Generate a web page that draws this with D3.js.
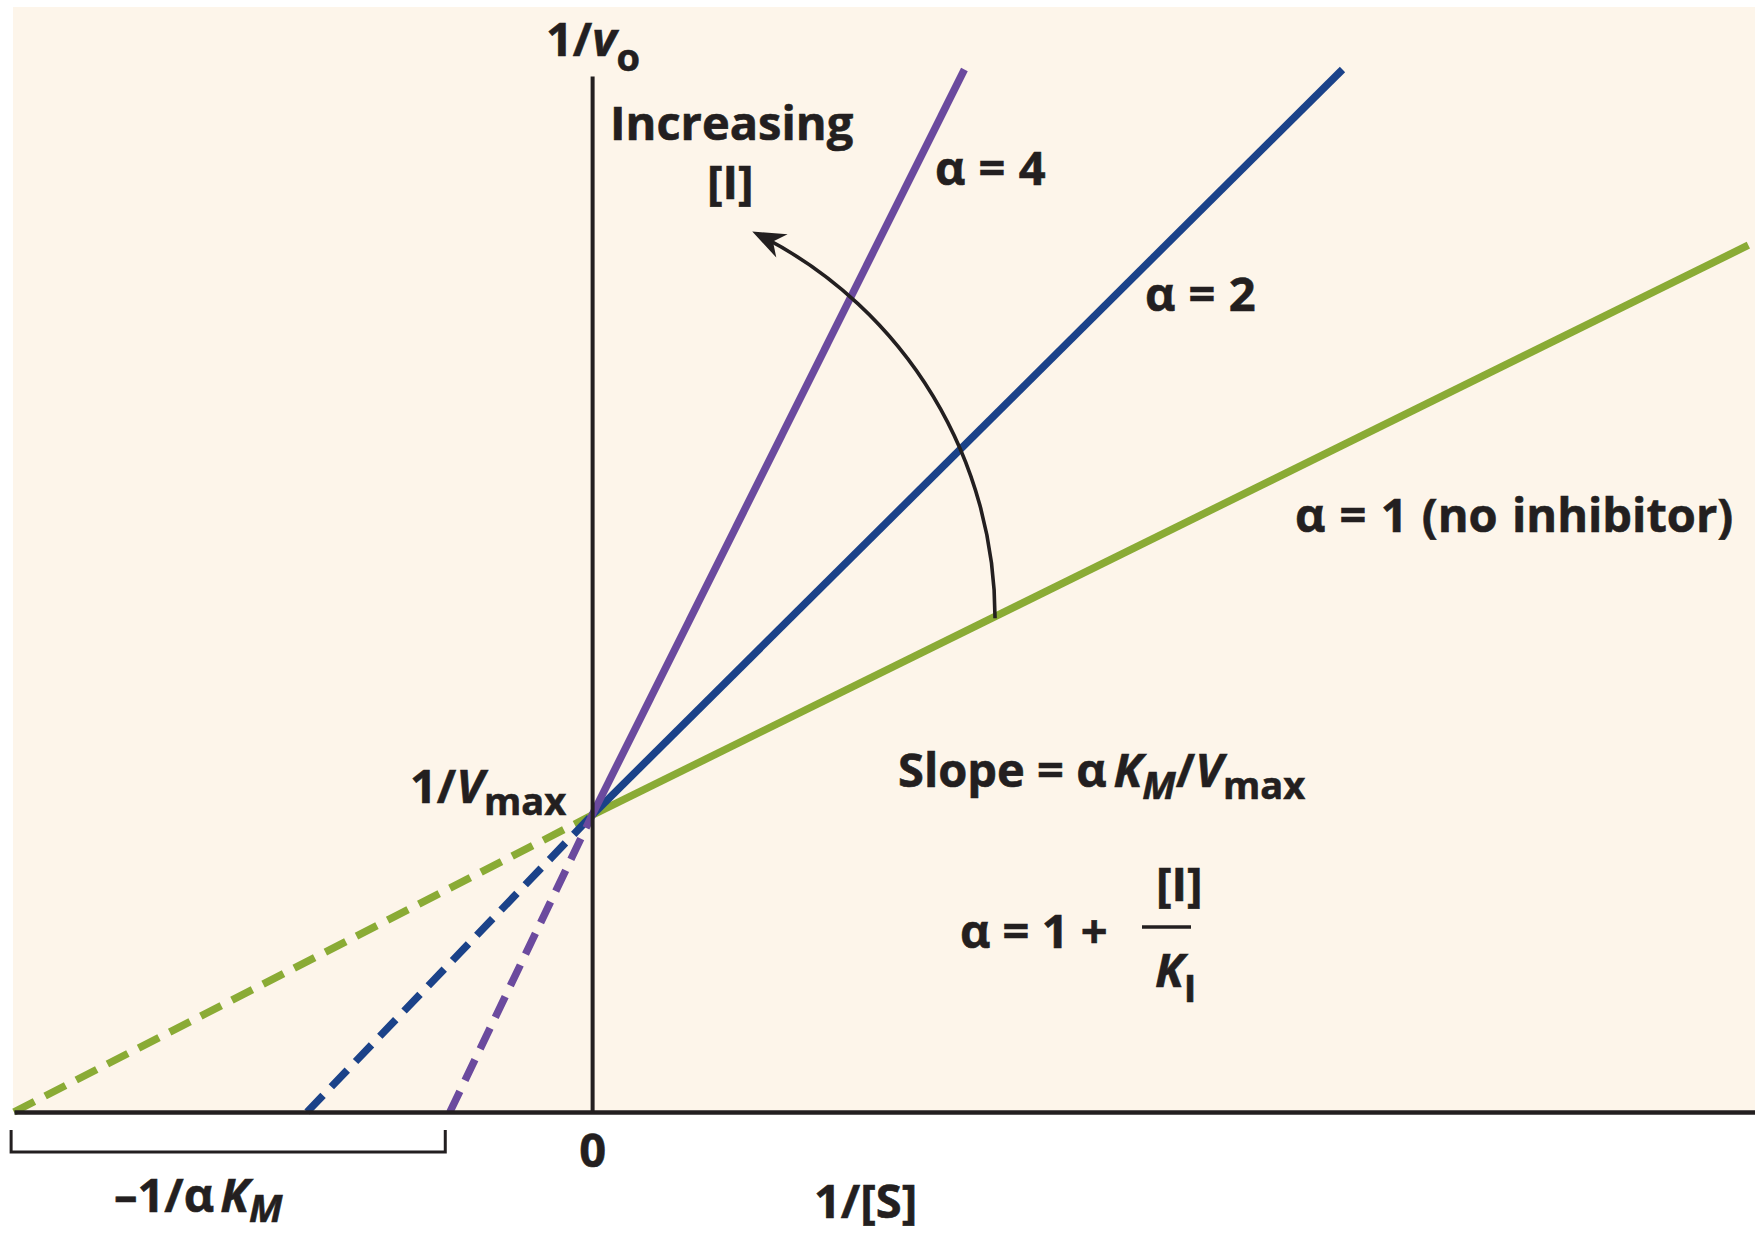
<!DOCTYPE html>
<html>
<head>
<meta charset="utf-8">
<script src="https://cdn.jsdelivr.net/npm/d3@7"></script>
<style>
  html, body { margin: 0; padding: 0; background: #fff; }
  svg { display: block; }
  text { font-family: 'Open Sans', 'Noto Sans', sans-serif; font-weight: 700; fill: #231f20; stroke: #231f20; stroke-width: 0.6px; }
</style>
</head>
<body>
<svg id="chart"></svg>
<script>
// Lineweaver-Burk plot, competitive inhibition (units: 1/KM on x, 1/Vmax on y)
const alphas = [1, 2, 4];
const seriesLabels = ['α = 1 (no inhibitor)', 'α = 2', 'α = 4'];
const yIntercept = 1; // 1/Vmax
const xIntercepts = [-1.0, -0.493, -0.246]; // -1/αKM
const lineEnds = [[2.0, 2.92], [1.298, 3.512], [0.644, 3.512]];
const xTickValues = [0];
const xTickLabels = ['0'];
const bracketRange = [-1.005, -0.254];
// arrow "Increasing [I]": from the green line up to the left
const arrowStart = [0.697, 1.663];
const arrowEnd = [0.277, 2.966];

const width = 1755;
const height = 1233;
const colors = ['#8aab35', '#1b4289', '#6b4a9e'];
const ink = '#231f20';
const fontSize = 47;
const subSize = 38;

const svg = d3.select('#chart').attr('width', width).attr('height', height);

const x = d3.scaleLinear().domain([-1, 2.015]).range([14, 1757]);
const y = d3.scaleLinear().domain([0, 3.49]).range([1112, 76]);

svg
  .append('rect')
  .attr('x', x(-1) - 1)
  .attr('y', 7)
  .attr('width', width - x(-1) + 1)
  .attr('height', y(0) - 7)
  .attr('fill', '#fdf5ea');

const line = d3
  .line()
  .x((d) => x(d[0]))
  .y((d) => y(d[1]));

alphas.forEach((a, i) => {
  svg
    .append('path')
    .datum([[xIntercepts[i], 0], [0, yIntercept]])
    .attr('d', line)
    .attr('fill', 'none')
    .attr('stroke', colors[i])
    .attr('stroke-width', 7.5)
    .attr('stroke-dasharray', '23,12');

  svg
    .append('path')
    .datum([[0, yIntercept], lineEnds[i]])
    .attr('d', line)
    .attr('fill', 'none')
    .attr('stroke', colors[i])
    .attr('stroke-width', 7.5);
});

// axes
svg
  .append('g')
  .attr('transform', `translate(0,${y(0)})`)
  .call(
    d3
      .axisBottom(x)
      .tickValues(xTickValues)
      .tickFormat((d, i) => xTickLabels[i])
      .tickSize(0)
      .tickSizeOuter(0)
      .tickPadding(22),
  )
  .call((g) => g.attr('font-family', null).attr('font-size', null))
  .call((g) => g.select('.domain').attr('stroke', ink).attr('stroke-width', 4.5))
  .call((g) => g.selectAll('text').attr('font-size', fontSize));

svg
  .append('g')
  .attr('transform', `translate(${x(0)},0)`)
  .call(d3.axisLeft(y).tickValues([]).tickSizeOuter(0))
  .call((g) => g.select('.domain').attr('stroke', ink).attr('stroke-width', 4));

// bracket under the negative x-axis
const by0 = y(0) + 18;
const by1 = y(0) + 40;
svg
  .append('path')
  .attr(
    'd',
    `M${x(bracketRange[0])},${by0}V${by1}H${x(bracketRange[1])}V${by0}`,
  )
  .attr('fill', 'none')
  .attr('stroke', ink)
  .attr('stroke-width', 3);

// curved arrow
const p0 = [x(arrowStart[0]), y(arrowStart[1])];
const p1 = [x(arrowEnd[0]), y(arrowEnd[1])];
const cx =
  (p0[0] ** 2 - p1[0] ** 2 - (p1[1] - p0[1]) ** 2) / (2 * (p0[0] - p1[0]));
const cy = p0[1];
const r = p0[0] - cx;
const a1 = Math.atan2(p1[1] - cy, p1[0] - cx);
const arc = d3.path();
arc.arc(cx, cy, r, 0, a1 + 14 / r, true);
svg
  .append('path')
  .attr('d', arc.toString())
  .attr('fill', 'none')
  .attr('stroke', ink)
  .attr('stroke-width', 3.6);

const ux = Math.sin(a1);
const uy = -Math.cos(a1);
const head = [
  [0, 0],
  [-33, 13],
  [-23, 0],
  [-33, -13],
].map(([u, n]) => [p1[0] + u * ux - n * uy, p1[1] + u * uy + n * ux]);
svg
  .append('path')
  .attr('d', d3.line()(head) + 'Z')
  .attr('fill', ink);

// labels
function label(px, py, parts) {
  const t = svg
    .append('text')
    .attr('x', px)
    .attr('y', py)
    .attr('font-size', fontSize);
  let shift = 0;
  parts.forEach((p) => {
    const s = t.append('tspan').text(p.t);
    if (p.i) s.attr('font-style', 'italic');
    if (p.size) s.attr('font-size', p.size);
    if (p.dx) s.attr('dx', p.dx);
    const target = p.sub || 0;
    if (target !== shift) {
      s.attr('dy', target - shift);
      shift = target;
    }
  });
  return t;
}

label(546, 56, [{ t: '1/' }, { t: 'v', i: true }, { t: 'o', sub: 15, size: subSize }]);
label(610, 140, [{ t: 'Increasing' }]);
label(707, 199, [{ t: '[I]' }]);

const seriesLabelPos = [
  [1295, 532],
  [1145, 311],
  [935, 185],
];
seriesLabels.forEach((s, i) =>
  label(...seriesLabelPos[i], [{ t: s }]).attr('word-spacing', i === 0 ? 2 : 1),
);

label(410, 803, [{ t: '1/' }, { t: 'V', i: true }, { t: 'max', sub: 12, size: subSize }]);

label(898, 787, [
  { t: 'Slope = α' },
  { t: 'K', i: true, dx: 7 },
  { t: 'M', i: true, sub: 12, size: subSize },
  { t: '/' },
  { t: 'V', i: true },
  { t: 'max', sub: 12, size: subSize },
]);

label(960, 948, [{ t: 'α = 1 +' }]);
label(1156, 901, [{ t: '[I]' }]);
svg
  .append('line')
  .attr('x1', 1142)
  .attr('x2', 1191)
  .attr('y1', 927)
  .attr('y2', 927)
  .attr('stroke', ink)
  .attr('stroke-width', 3.5);
label(1155, 987, [{ t: 'K', i: true }, { t: 'I', sub: 15, size: subSize }]);

label(114, 1212, [
  { t: '–1/α' },
  { t: 'K', i: true, dx: 6 },
  { t: 'M', i: true, sub: 10, size: subSize },
]);
label(814, 1218, [{ t: '1/[S]' }]);
</script>
</body>
</html>
